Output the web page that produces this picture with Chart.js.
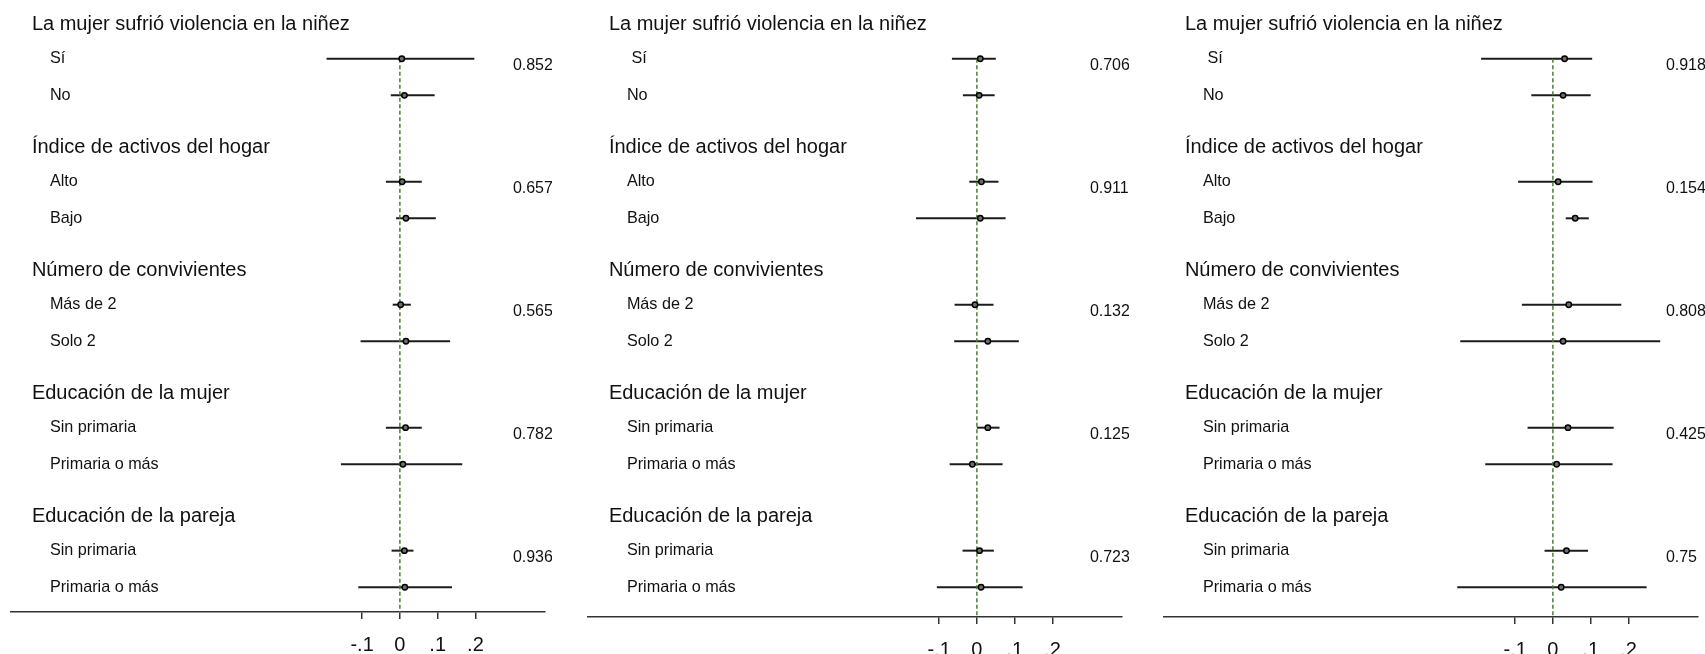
<!DOCTYPE html>
<html lang="es">
<head>
<meta charset="utf-8">
<title>Efectos por subgrupo</title>
<script src="https://cdn.jsdelivr.net/npm/chart.js@4/dist/chart.umd.min.js"></script>
<style>
  html, body { margin: 0; padding: 0; background: #fff; }
  #wrap { position: relative; width: 1705px; height: 654px; overflow: hidden; }
  #wrap canvas { position: absolute; top: 0; }
</style>
</head>
<body>
<div id="wrap">
  <canvas id="panel1" width="552" height="654" style="left:0px"></canvas>
  <canvas id="panel2" width="552" height="654" style="left:577px"></canvas>
  <canvas id="panel3" width="552" height="654" style="left:1153px"></canvas>
</div>
<script>
'use strict';

// ── Data ─────────────────────────────────────────────
const GROUPS = [
    'La mujer sufrió violencia en la niñez',
    'Índice de activos del hogar',
    'Número de convivientes',
    'Educación de la mujer',
    'Educación de la pareja'
];
const LEVELS_1 = ['Sí', 'No', 'Alto', 'Bajo', 'Más de 2', 'Solo 2',
                  'Sin primaria', 'Primaria o más', 'Sin primaria', 'Primaria o más'];
const LEVELS_2 = [' Sí', 'No', 'Alto', 'Bajo', 'Más de 2', 'Solo 2',
                  'Sin primaria', 'Primaria o más', 'Sin primaria', 'Primaria o más'];

const TICK_VALUES = [-0.1, 0, 0.1, 0.2];
const TICK_LABELS = ['-.1', '0', '.1', '.2'];

// panel 1
const EST_1 = [0.005, 0.012, 0.006, 0.016, 0.002, 0.016, 0.015, 0.008, 0.012, 0.013];
const LO_1  = [-0.194, -0.024, -0.037, -0.010, -0.019, -0.104, -0.037, -0.156, -0.022, -0.110];
const HI_1  = [0.197, 0.092, 0.058, 0.095, 0.029, 0.133, 0.058, 0.165, 0.036, 0.138];
const PVAL_1 = ['0.852', '0.657', '0.565', '0.782', '0.936'];

// panel 2
const EST_2 = [0.009, 0.006, 0.012, 0.009, -0.005, 0.029, 0.029, -0.012, 0.007, 0.011];
const LO_2  = [-0.066, -0.037, -0.020, -0.161, -0.059, -0.060, 0.000, -0.072, -0.038, -0.106];
const HI_2  = [0.050, 0.047, 0.057, 0.076, 0.044, 0.111, 0.060, 0.068, 0.045, 0.121];
const PVAL_2 = ['0.706', '0.911', '0.132', '0.125', '0.723'];

// panel 3
const EST_3 = [0.031, 0.027, 0.014, 0.059, 0.042, 0.027, 0.040, 0.010, 0.036, 0.022];
const LO_3  = [-0.190, -0.057, -0.092, 0.034, -0.082, -0.245, -0.067, -0.179, -0.022, -0.253];
const HI_3  = [0.104, 0.100, 0.105, 0.095, 0.181, 0.284, 0.161, 0.158, 0.093, 0.248];
const PVAL_3 = ['0.918', '0.154', '0.808', '0.425', '0.75'];

// ── Layout helpers ───────────────────────────────────
const ROW_PX     = 36.6;   // pixels per y unit
const GROUP_STEP = 3.36;   // header to next header
const HEAD_GAP   = 0.945;  // header to first level
const Y_MIN      = -0.66;
const X_MIN      = -1.029;
const X_MAX      = 0.384;
const FONT       = '"Liberation Sans", Arial, sans-serif';

const headY = g => g * GROUP_STEP;
const rowY  = i => headY(Math.floor(i / 2)) + HEAD_GAP + (i % 2);

// headers, level names and p-values
const rowText = {
    id: 'rowText',
    afterDatasetsDraw(chart, args, opts) {
        const { ctx, scales: { x, y } } = chart;
        const x0 = x.getPixelForValue(0);
        ctx.save();
        ctx.fillStyle = '#111';
        ctx.textAlign = 'left';
        ctx.textBaseline = 'middle';
        GROUPS.forEach((name, g) => {
            ctx.font = '20px ' + FONT;
            ctx.fillText(name, x0 - 368, y.getPixelForValue(headY(g)));
            ctx.font = '16.2px ' + FONT;
            ctx.fillText(opts.levels[2 * g], x0 - 350, y.getPixelForValue(rowY(2 * g)));
            ctx.fillText(opts.levels[2 * g + 1], x0 - 350, y.getPixelForValue(rowY(2 * g + 1)));
            ctx.font = '16px ' + FONT;
            ctx.fillText(opts.pvals[g], x0 + 113, y.getPixelForValue(rowY(2 * g) + 0.19));
        });
        ctx.restore();
    }
};

function makePanel(id, levels, est, lo, hi, pvals, axisY) {
    const yMax = Y_MIN + axisY / ROW_PX;

    const ciSets = est.map((_, i) => ({
        data: [{ x: lo[i], y: rowY(i) }, { x: hi[i], y: rowY(i) }],
        showLine: true,
        borderColor: '#1c1c1c',
        borderWidth: 2,
        pointRadius: 0,
        order: 3
    }));

    const refLine = {
        data: [{ x: 0, y: rowY(0) }, { x: 0, y: yMax }],
        showLine: true,
        borderColor: '#4a7f2c',
        borderWidth: 1.5,
        borderDash: [4, 2.5],
        pointRadius: 0,
        order: 2
    };

    const points = {
        data: est.map((v, i) => ({ x: v, y: rowY(i) })),
        pointRadius: 2.7,
        pointBorderWidth: 1.5,
        pointBorderColor: '#000',
        pointBackgroundColor: '#6e6e6e',
        order: 1
    };

    new Chart(document.getElementById(id), {
        type: 'scatter',
        data: { datasets: [points, refLine, ...ciSets] },
        options: {
            responsive: false,
            animation: false,
            devicePixelRatio: 1,
            layout: { autoPadding: false, padding: { left: 11, right: 7, top: 0, bottom: 0 } },
            plugins: {
                legend: { display: false },
                tooltip: { enabled: false },
                rowText: { levels, pvals }
            },
            scales: {
                x: {
                    type: 'linear',
                    min: X_MIN,
                    max: X_MAX,
                    afterBuildTicks: (scale) => {
                        scale.ticks = TICK_VALUES.map(v => ({ value: v }));
                    },
                    afterFit: (scale) => { scale.height = 654 - axisY; },
                    border: { display: true, color: '#333', width: 1.5 },
                    grid: {
                        display: true,
                        drawOnChartArea: false,
                        drawTicks: true,
                        tickLength: 7,
                        color: '#333',
                        lineWidth: 1.5
                    },
                    ticks: {
                        padding: 14,
                        color: '#111',
                        font: { family: FONT, size: 20 },
                        callback: (val) => TICK_LABELS[TICK_VALUES.findIndex(t => Math.abs(t - val) < 1e-9)]
                    }
                },
                y: {
                    type: 'linear',
                    display: false,
                    reverse: true,
                    min: Y_MIN,
                    max: yMax
                }
            }
        },
        plugins: [rowText]
    });
}

makePanel('panel1', LEVELS_1, EST_1, LO_1, HI_1, PVAL_1, 612);
makePanel('panel2', LEVELS_2, EST_2, LO_2, HI_2, PVAL_2, 617);
makePanel('panel3', LEVELS_2, EST_3, LO_3, HI_3, PVAL_3, 617);
</script>
</body>
</html>
